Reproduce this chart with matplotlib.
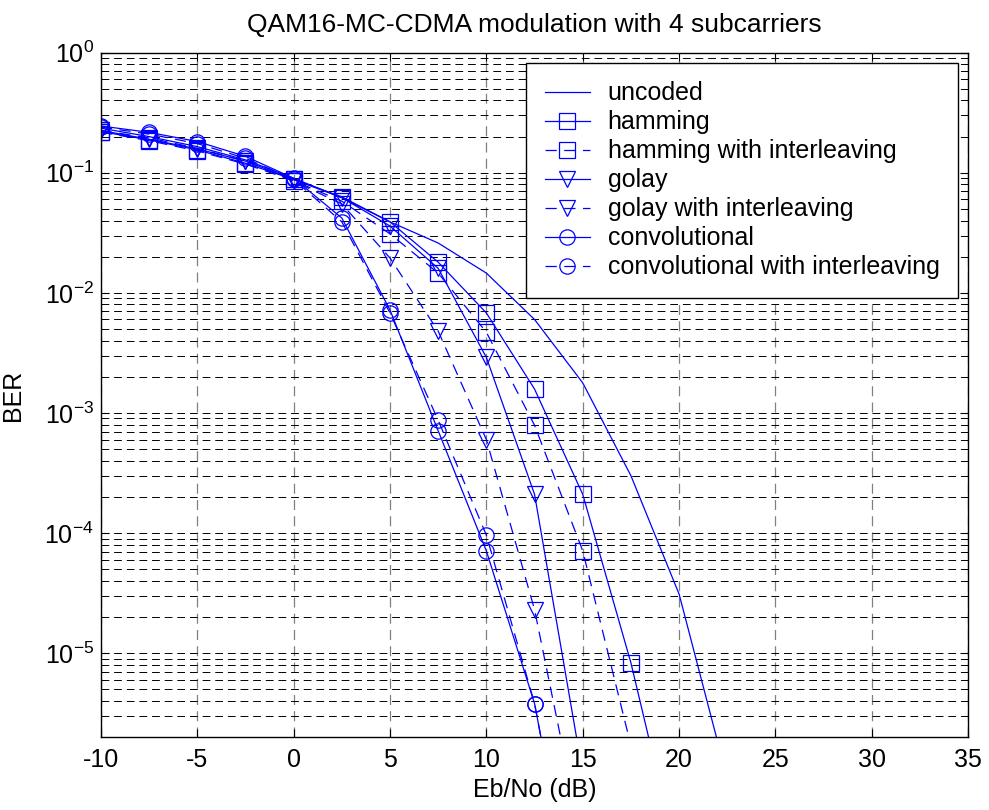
import matplotlib
matplotlib.use("Agg")
import matplotlib.pyplot as plt
from matplotlib.ticker import LogLocator, NullFormatter, MultipleLocator

plt.rcParams['font.family'] = ['Liberation Sans', 'DejaVu Sans']
plt.rcParams['mathtext.default'] = 'regular'
plt.rcParams['axes.unicode_minus'] = False

snr = [-10, -7.5, -5, -2.5, 0, 2.5, 5, 7.5, 10, 12.5, 15, 17.5, 20, 22.5]

uncoded = [0.235, 0.200, 0.165, 0.128, 0.090, 0.062, 0.039, 0.026, 0.0146,
           6.0e-3, 1.78e-3, 3.0e-4, 3.1e-5, 9e-7]
hamming = [0.220, 0.188, 0.155, 0.120, 0.088, 0.063, 0.039, 0.018, 0.0068,
           1.58e-3, 2.1e-4, 8.3e-6, 1.7e-7]
hamming_il = [0.218, 0.185, 0.152, 0.118, 0.086, 0.058, 0.031, 0.0146, 0.0047,
              7.9e-4, 7.1e-5, 1.7e-6]
golay = [0.225, 0.190, 0.158, 0.125, 0.088, 0.062, 0.036, 0.016, 0.0029,
         2.1e-4, 1.0e-6]
golay_il = [0.225, 0.195, 0.160, 0.125, 0.085, 0.055, 0.0195, 0.0048, 6.0e-4,
            2.3e-5, 2.5e-7]
conv = [0.245, 0.217, 0.182, 0.137, 0.090, 0.042, 0.0072, 7.1e-4, 7.1e-5,
        3.8e-6, 3e-8]
conv_il = [0.240, 0.210, 0.175, 0.132, 0.088, 0.039, 0.0068, 8.7e-4, 9.6e-5,
           3.8e-6, 3e-8]

names = ['uncoded', 'hamming', 'hamming with interleaving', 'golay',
         'golay with interleaving', 'convolutional',
         'convolutional with interleaving']
series = [uncoded, hamming, hamming_il, golay, golay_il, conv, conv_il]
markers = [None, 's', 's', 'v', 'v', 'o', 'o']
dashed = [False, False, True, False, True, False, True]

ber_ticks = [1e-5, 1e-4, 1e-3, 1e-2, 1e-1, 1e0]
ber_labels = ['$10^{-5}$', '$10^{-4}$', '$10^{-3}$', '$10^{-2}$',
              '$10^{-1}$', '$10^{0}$']

blue = '#0000ff'

fig = plt.figure(figsize=(9.89, 8.10), dpi=100)
ax = fig.add_axes([0.102, 0.090, 0.877, 0.845])

for name, vals, mk, dsh in zip(names, series, markers, dashed):
    ls = (0, (9, 6)) if dsh else '-'
    ax.semilogy(snr[:len(vals)], vals, color=blue, linestyle=ls, linewidth=0.9,
                marker=mk, markersize=12 if mk == 'v' else 11,
                markerfacecolor='none', markeredgecolor=blue,
                markeredgewidth=0.9, label=name)

ax.set_xlim(-10, 35)
ax.set_ylim(2e-6, 1)
ax.xaxis.set_major_locator(MultipleLocator(5))
ax.set_yticks(ber_ticks)
ax.set_yticklabels(ber_labels)
ax.yaxis.set_minor_locator(LogLocator(base=10, subs=range(2, 10), numticks=20))
ax.yaxis.set_minor_formatter(NullFormatter())

ax.yaxis.grid(True, which='both', color='black', linestyle=(0, (8, 5)),
              linewidth=0.7)
ax.xaxis.grid(True, which='major', color='0.5', linestyle=(0, (8, 5)),
              linewidth=0.9)
ax.set_axisbelow(True)

ax.tick_params(which='both', direction='in', top=True, right=True,
               labelsize=18)
ax.tick_params(axis='x', which='major', length=6, pad=8)
ax.tick_params(axis='y', which='major', length=6, pad=5)
ax.tick_params(which='minor', length=3, labelleft=False, labelbottom=False)
for sp in ax.spines.values():
    sp.set_linewidth(1.0)

ax.set_title('QAM16-MC-CDMA modulation with 4 subcarriers', fontsize=19,
             pad=15)
ax.set_xlabel('Eb/No (dB)', fontsize=18, labelpad=4)
ax.set_ylabel('BER', fontsize=18, labelpad=14)

leg = ax.legend(loc='upper right', fontsize=18, fancybox=False,
                edgecolor='black', framealpha=1, handlelength=1.8,
                handletextpad=0.72, borderaxespad=0.4, labelspacing=0.2,
                borderpad=0.75)
leg.get_frame().set_linewidth(1.0)

fig.savefig('out.png', dpi=100)
